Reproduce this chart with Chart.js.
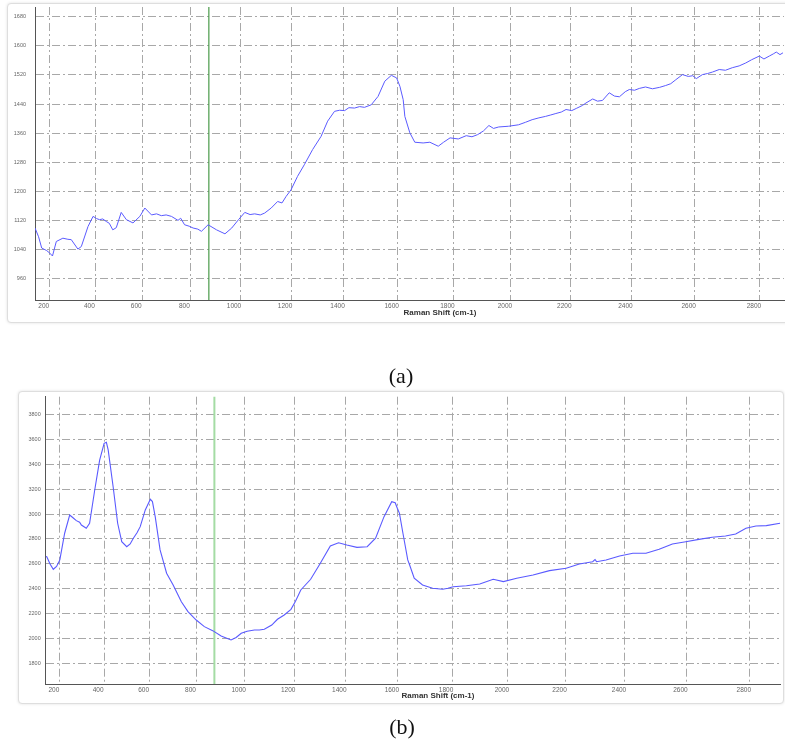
<!DOCTYPE html>
<html lang="en">
<head>
<meta charset="UTF-8">
<title>Raman spectra (a) and (b)</title>
<script src="https://cdn.jsdelivr.net/npm/chart.js@4.4.1/dist/chart.umd.min.js"></script>
<style>
  body { margin: 0; width: 785px; height: 740px; overflow: hidden; background: #fff; position: relative;
         font-family: "Liberation Sans", Arial, sans-serif; }
  .panel { position: absolute; background: #fff; border: 1px solid #dedede; border-radius: 4px;
           box-shadow: 0 0 3px rgba(0,0,0,0.12); }
  canvas { position: absolute; left: 0; }
  .axis-title { position: absolute; font-weight: bold; font-size: 8px; color: #333;
                transform: translate(-50%, -50%); white-space: nowrap; }
  .caption { position: absolute; font-family: "Liberation Serif", "Times New Roman", serif; font-size: 22px;
             color: #111; transform: translate(-50%, -50%); }
</style>
</head>
<body>
  <div class="panel" style="left:7px; top:3px; width:800px; height:318px;"></div>
  <div class="panel" style="left:18px; top:391px; width:764px; height:311px;"></div>

  <canvas id="chartA" width="785" height="325" style="top:0px"></canvas>
  <canvas id="chartB" width="785" height="325" style="top:385px"></canvas>

  <div class="axis-title" style="left:440px; top:312px;">Raman Shift (cm-1)</div>
  <div class="axis-title" style="left:438px; top:695px;">Raman Shift (cm-1)</div>

  <div class="caption" style="left:401px; top:376px;">(a)</div>
  <div class="caption" style="left:402px; top:727px;">(b)</div>

<script>
// spectrum (a)
const shiftA = [134, 150, 164, 186, 200, 212, 229, 258, 280, 295, 324, 339, 368, 390, 405, 418, 432, 447, 460, 475,
  490, 511, 533, 561, 590, 611, 639, 660, 680, 700, 722, 749, 760, 776, 795, 811, 830, 845, 872, 906,
  940, 967, 994, 1019, 1040, 1058, 1080, 1097, 1123, 1148, 1165, 1181, 1200, 1225, 1251, 1283, 1315, 1340, 1366, 1385,
  1404, 1420, 1441, 1460, 1478, 1503, 1528, 1553, 1577, 1596, 1608, 1620, 1626, 1644, 1662, 1692, 1716, 1746, 1765, 1788,
  1817, 1845, 1865, 1885, 1905, 1924, 1940, 1958, 1992, 2026, 2050, 2072, 2095, 2117, 2135, 2152, 2170, 2186, 2205, 2220,
  2240, 2252, 2274, 2290, 2306, 2328, 2345, 2361, 2380, 2393, 2410, 2425, 2445, 2467, 2490, 2509, 2525, 2541, 2562, 2580,
  2594, 2605, 2624, 2640, 2655, 2676, 2695, 2716, 2737, 2757, 2775, 2798, 2812, 2828, 2840, 2849, 2860, 2869];
const countsA = [1099, 1075, 1044, 1037, 1030, 1022, 1062, 1071, 1068, 1067, 1041, 1048, 1103, 1131, 1125, 1122, 1124, 1117, 1112, 1094,
  1100, 1142, 1122, 1113, 1131, 1154, 1135, 1138, 1133, 1135, 1131, 1120, 1126, 1108, 1104, 1099, 1096, 1090, 1108, 1094,
  1083, 1099, 1122, 1142, 1136, 1138, 1135, 1140, 1154, 1172, 1168, 1186, 1204, 1241, 1273, 1315, 1351, 1393, 1420, 1423,
  1422, 1430, 1429, 1433, 1431, 1438, 1461, 1503, 1519, 1512, 1489, 1452, 1406, 1361, 1335, 1333, 1335, 1324, 1335, 1347,
  1344, 1353, 1350, 1356, 1366, 1381, 1373, 1377, 1379, 1383, 1390, 1397, 1402, 1406, 1410, 1414, 1418, 1425, 1422, 1428,
  1436, 1443, 1454, 1448, 1450, 1471, 1462, 1460, 1474, 1480, 1478, 1483, 1487, 1482, 1486, 1491, 1496, 1507, 1521, 1516,
  1518, 1510, 1521, 1524, 1528, 1535, 1533, 1540, 1545, 1553, 1562, 1572, 1564, 1572, 1578, 1583, 1576, 1581];

// spectrum (b)
const shiftB = [135, 140, 155, 170, 185, 200, 222, 245, 260, 275, 290, 298, 320, 335, 358, 380, 400, 410, 418, 440,
  460, 478, 500, 515, 529, 545, 559, 581, 603, 612, 624, 645, 673, 701, 736, 764, 799, 833, 868, 903,
  944, 965, 986, 1010, 1040, 1060, 1080, 1110, 1133, 1160, 1187, 1205, 1226, 1265, 1303, 1342, 1374, 1406, 1445, 1484,
  1516, 1548, 1577, 1590, 1598, 1606, 1619, 1637, 1644, 1661, 1692, 1729, 1766, 1785, 1804, 1852, 1900, 1948, 1984, 2031,
  2088, 2145, 2202, 2247, 2292, 2300, 2305, 2337, 2382, 2426, 2469, 2512, 2555, 2598, 2640, 2682, 2724, 2756, 2788, 2819,
  2851, 2893];
const countsB = [2660, 2658, 2600, 2557, 2580, 2632, 2846, 2992, 2970, 2947, 2935, 2912, 2886, 2926, 3193, 3433, 3567, 3575, 3514, 3219,
  2926, 2778, 2738, 2760, 2806, 2850, 2899, 3033, 3118, 3100, 2979, 2712, 2525, 2431, 2297, 2217, 2150, 2097, 2065, 2022,
  1990, 2010, 2044, 2060, 2070, 2070, 2076, 2110, 2156, 2190, 2236, 2300, 2391, 2477, 2605, 2744, 2770, 2752, 2733, 2738,
  2806, 2979, 3099, 3090, 3046, 3006, 2846, 2632, 2591, 2485, 2431, 2405, 2397, 2405, 2417, 2425, 2439, 2477, 2458, 2485,
  2511, 2546, 2565, 2600, 2618, 2635, 2618, 2632, 2664, 2685, 2685, 2717, 2760, 2778, 2797, 2814, 2824, 2840, 2886, 2904,
  2907, 2926];

// ticks and axis ranges
const xTicks = [200, 400, 600, 800, 1000, 1200, 1400, 1600, 1800, 2000, 2200, 2400, 2600, 2800];
const yTicksA = [960, 1040, 1120, 1200, 1280, 1360, 1440, 1520, 1600, 1680];
const yTicksB = [1800, 2000, 2200, 2400, 2600, 2800, 3000, 3200, 3400, 3600, 3800];
const xRangeA = [134, 2872];
const yRangeA = [901, 1707];
const xRangeB = [135, 2895];
const yRangeB = [1637, 3941];
const markerShift = 875; // green cursor line

// the software spaces the shift axis evenly in wavelength, not in cm-1
const LASER_CM = 1e7 / 671;

class RamanShiftScale extends Chart.LinearScale {
  static id = 'ramanShift';
  static defaults = Chart.LinearScale.defaults;
  _inv(v) { return 1 / (LASER_CM - v); }
  getPixelForValue(v) {
    const a = this._inv(this.min), b = this._inv(this.max);
    return this.getPixelForDecimal((this._inv(v) - a) / (b - a));
  }
  getValueForPixel(p) {
    const a = this._inv(this.min), b = this._inv(this.max);
    return LASER_CM - 1 / (a + this.getDecimalForPixel(p) * (b - a));
  }
}
Chart.register(RamanShiftScale);

const markerLine = {
  id: 'markerLine',
  beforeDatasetsDraw(chart, args, opts) {
    const x = chart.scales.x.getPixelForValue(opts.shift);
    const { top, bottom } = chart.chartArea;
    const ctx = chart.ctx;
    ctx.save();
    ctx.strokeStyle = opts.color;
    ctx.lineWidth = opts.width;
    ctx.beginPath();
    ctx.moveTo(x, top);
    ctx.lineTo(x, bottom);
    ctx.stroke();
    ctx.restore();
  }
};

const gridDash = [8, 3, 2, 3];

function drawSpectrum(id, o) {
  new Chart(document.getElementById(id), {
    type: 'line',
    data: {
      datasets: [{
        data: o.shift.map((s, i) => ({ x: s, y: o.counts[i] })),
        borderColor: '#5a5aff',
        borderWidth: o.lineWidth,
        pointRadius: 0,
        tension: 0,
        fill: false
      }]
    },
    options: {
      responsive: false,
      animation: false,
      events: [],
      layout: { padding: o.pad },
      plugins: {
        legend: { display: false },
        tooltip: { enabled: false },
        markerLine: { shift: markerShift, color: o.markerColor, width: o.markerWidth }
      },
      scales: {
        x: {
          type: 'ramanShift',
          min: o.xRange[0],
          max: o.xRange[1],
          afterBuildTicks: s => { s.ticks = xTicks.map(v => ({ value: v })); },
          afterFit: s => { s.height = o.xHeight; s.paddingLeft = 0; s.paddingRight = 0; },
          grid: { color: '#a8a8a8', lineWidth: 1, drawTicks: false },
          border: { color: '#555', width: 1, dash: gridDash },
          ticks: {
            autoSkip: false, maxRotation: 0, labelOffset: -6, padding: 2, color: '#666',
            font: { family: 'Liberation Sans', size: 6.5 },
            callback: v => String(v)
          }
        },
        y: {
          min: o.yRange[0],
          max: o.yRange[1],
          afterBuildTicks: s => { s.ticks = o.yTicks.map(v => ({ value: v })); },
          afterFit: s => { s.width = o.yWidth; s.paddingTop = 0; s.paddingBottom = 0; },
          grid: { color: '#a8a8a8', lineWidth: 1, drawTicks: false },
          border: { color: '#555', width: 1, dash: gridDash },
          ticks: {
            padding: o.yPad, color: '#666',
            font: { family: 'Liberation Sans', size: 5.5 },
            callback: v => String(v)
          }
        }
      }
    },
    plugins: [markerLine]
  });
}

drawSpectrum('chartA', {
  shift: shiftA, counts: countsA, xRange: xRangeA, yRange: yRangeA, yTicks: yTicksA,
  pad: { top: 7, right: 1, left: 0, bottom: 0 }, xHeight: 25, yWidth: 35, yPad: 9,
  lineWidth: 1, markerColor: '#4a9a4a', markerWidth: 1.2
});

drawSpectrum('chartB', {
  shift: shiftB, counts: countsB, xRange: xRangeB, yRange: yRangeB, yTicks: yTicksB,
  pad: { top: 11.7, right: 4.3, left: 0, bottom: 0 }, xHeight: 26, yWidth: 45.7, yPad: 5,
  lineWidth: 1.1, markerColor: '#a4dca4', markerWidth: 2
});
</script>
</body>
</html>
